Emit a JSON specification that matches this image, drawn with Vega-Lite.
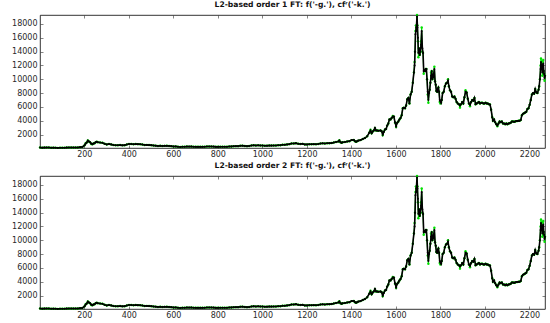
{
  "$schema": "https://vega.github.io/schema/vega-lite/v6.json",
  "padding": {"left": 11, "top": 1, "right": 6, "bottom": 1},
  "background": "white",
  "bounds": "flush",
  "spacing": 28,
  "config": {
    "view": {"stroke": "#000", "strokeWidth": 0.8},
    "axis": {
      "domain": false,
      "grid": false,
      "tickSize": -3,
      "tickColor": "#333",
      "tickWidth": 0.6,
      "labelFont": "DejaVu Sans",
      "labelFontSize": 8,
      "labelColor": "#2a2a2a",
      "format": "d",
      "title": null
    },
    "title": {"font": "DejaVu Sans", "fontSize": 7.6, "fontWeight": "bold", "color": "#111", "offset": 0}
  },
  "datasets": {"d": [
    {"x":1,"c":135,"f":135},{"x":11,"c":112,"f":112},{"x":21,"c":120,"f":120},{"x":31,"c":125,"f":125},{"x":41,"c":122,"f":122},{"x":51,"c":100,"f":100},{"x":61,"c":108,"f":108},{"x":71,"c":90,"f":90},{"x":81,"c":77,"f":77},{"x":91,"c":88,"f":88},
    {"x":101,"c":95,"f":95},{"x":111,"c":105,"f":105},{"x":121,"c":120,"f":120},{"x":131,"c":122,"f":122},{"x":141,"c":128,"f":128},{"x":151,"c":130,"f":130},{"x":161,"c":125,"f":125},{"x":171,"c":140,"f":140},{"x":181,"c":185,"f":185},{"x":191,"c":210,"f":210},
    {"x":201,"c":440,"f":440},{"x":206,"c":700,"f":740},{"x":211,"c":850,"f":850},{"x":216,"c":1130,"f":1150},{"x":221,"c":1000,"f":1000},{"x":226,"c":900,"f":900},{"x":231,"c":700,"f":650},{"x":236,"c":600,"f":600},{"x":241,"c":700,"f":700},{"x":246,"c":750,"f":750},
    {"x":251,"c":900,"f":900},{"x":256,"c":950,"f":950},{"x":261,"c":900,"f":900},{"x":271,"c":850,"f":850},{"x":281,"c":820,"f":820},{"x":291,"c":680,"f":680},{"x":301,"c":580,"f":580},{"x":311,"c":640,"f":640},{"x":321,"c":580,"f":580},{"x":331,"c":500,"f":500},
    {"x":341,"c":450,"f":450},{"x":351,"c":450,"f":450},{"x":361,"c":480,"f":480},{"x":371,"c":440,"f":440},{"x":381,"c":470,"f":470},{"x":391,"c":580,"f":580},{"x":401,"c":640,"f":640},{"x":411,"c":640,"f":640},{"x":421,"c":600,"f":600},{"x":431,"c":630,"f":630},
    {"x":441,"c":620,"f":620},{"x":451,"c":600,"f":600},{"x":461,"c":560,"f":560},{"x":471,"c":500,"f":500},{"x":481,"c":510,"f":510},{"x":491,"c":480,"f":480},{"x":501,"c":470,"f":470},{"x":511,"c":420,"f":420},{"x":521,"c":400,"f":400},{"x":531,"c":360,"f":360},
    {"x":541,"c":380,"f":380},{"x":551,"c":350,"f":350},{"x":561,"c":370,"f":370},{"x":571,"c":380,"f":380},{"x":581,"c":360,"f":360},{"x":591,"c":330,"f":330},{"x":601,"c":280,"f":280},{"x":611,"c":290,"f":290},{"x":621,"c":240,"f":240},{"x":631,"c":210,"f":210},
    {"x":641,"c":230,"f":230},{"x":651,"c":250,"f":250},{"x":661,"c":270,"f":270},{"x":671,"c":260,"f":260},{"x":681,"c":280,"f":280},{"x":691,"c":240,"f":240},{"x":701,"c":230,"f":230},{"x":711,"c":230,"f":230},{"x":721,"c":240,"f":240},{"x":731,"c":230,"f":230},
    {"x":741,"c":250,"f":250},{"x":751,"c":270,"f":270},{"x":761,"c":285,"f":285},{"x":771,"c":280,"f":280},{"x":781,"c":260,"f":260},{"x":791,"c":230,"f":230},{"x":801,"c":230,"f":230},{"x":811,"c":235,"f":235},{"x":821,"c":240,"f":240},{"x":831,"c":250,"f":250},
    {"x":841,"c":245,"f":245},{"x":851,"c":270,"f":270},{"x":861,"c":290,"f":290},{"x":871,"c":310,"f":310},{"x":881,"c":330,"f":330},{"x":891,"c":330,"f":330},{"x":901,"c":380,"f":380},{"x":911,"c":400,"f":400},{"x":921,"c":360,"f":360},{"x":931,"c":330,"f":330},
    {"x":941,"c":360,"f":360},{"x":951,"c":430,"f":430},{"x":961,"c":450,"f":450},{"x":971,"c":430,"f":430},{"x":981,"c":440,"f":440},{"x":991,"c":430,"f":430},{"x":1001,"c":420,"f":420},{"x":1011,"c":380,"f":380},{"x":1021,"c":400,"f":400},{"x":1031,"c":420,"f":420},
    {"x":1041,"c":410,"f":410},{"x":1051,"c":430,"f":430},{"x":1061,"c":420,"f":420},{"x":1071,"c":450,"f":450},{"x":1081,"c":460,"f":460},{"x":1091,"c":530,"f":530},{"x":1101,"c":530,"f":530},{"x":1111,"c":580,"f":580},{"x":1121,"c":620,"f":620},{"x":1131,"c":700,"f":700},
    {"x":1141,"c":720,"f":720},{"x":1151,"c":760,"f":760},{"x":1161,"c":680,"f":680},{"x":1171,"c":650,"f":650},{"x":1181,"c":660,"f":660},{"x":1191,"c":580,"f":580},{"x":1201,"c":580,"f":580},{"x":1211,"c":600,"f":600},{"x":1221,"c":610,"f":610},{"x":1231,"c":620,"f":620},
    {"x":1241,"c":610,"f":610},{"x":1251,"c":640,"f":640},{"x":1261,"c":700,"f":700},{"x":1271,"c":730,"f":730},{"x":1281,"c":720,"f":720},{"x":1291,"c":740,"f":740},{"x":1301,"c":760,"f":760},{"x":1311,"c":770,"f":770},{"x":1321,"c":860,"f":860},{"x":1331,"c":920,"f":920},
    {"x":1341,"c":1000,"f":1000},{"x":1346,"c":1150,"f":1200},{"x":1351,"c":900,"f":900},{"x":1356,"c":820,"f":820},{"x":1361,"c":900,"f":900},{"x":1371,"c":920,"f":920},{"x":1381,"c":1000,"f":1000},{"x":1391,"c":1050,"f":1050},{"x":1401,"c":1200,"f":1200},{"x":1411,"c":1230,"f":1230},
    {"x":1416,"c":1050,"f":1050},{"x":1421,"c":960,"f":960},{"x":1426,"c":1050,"f":1050},{"x":1431,"c":1130,"f":1130},{"x":1441,"c":1200,"f":1200},{"x":1451,"c":1350,"f":1350},{"x":1461,"c":1500,"f":1500},{"x":1471,"c":1750,"f":1750},{"x":1481,"c":2300,"f":2300},{"x":1486,"c":2600,"f":2700},
    {"x":1491,"c":2200,"f":2200},{"x":1496,"c":2450,"f":2450},{"x":1501,"c":2600,"f":2600},{"x":1506,"c":2950,"f":2950},{"x":1511,"c":2600,"f":2600},{"x":1516,"c":2600,"f":2600},{"x":1521,"c":2550,"f":2550},{"x":1531,"c":2600,"f":2600},{"x":1536,"c":2500,"f":2500},{"x":1541,"c":2000,"f":1900},
    {"x":1546,"c":2400,"f":2400},{"x":1551,"c":2750,"f":2750},{"x":1556,"c":2800,"f":2800},{"x":1561,"c":3300,"f":3300},{"x":1566,"c":3600,"f":3600},{"x":1571,"c":4200,"f":4200},{"x":1576,"c":4200,"f":4200},{"x":1581,"c":4400,"f":4400},{"x":1586,"c":4600,"f":4700},{"x":1591,"c":4600,"f":4600},
    {"x":1596,"c":3800,"f":3700},{"x":1601,"c":3200,"f":3100},{"x":1606,"c":3700,"f":3700},{"x":1611,"c":3900,"f":3900},{"x":1616,"c":4200,"f":4200},{"x":1621,"c":4400,"f":4400},{"x":1626,"c":4800,"f":4800},{"x":1631,"c":5800,"f":5800},{"x":1636,"c":5900,"f":5900},{"x":1641,"c":5800,"f":5800},
    {"x":1646,"c":6200,"f":6200},{"x":1651,"c":7100,"f":7100},{"x":1656,"c":7300,"f":7300},{"x":1661,"c":6500,"f":6500},{"x":1666,"c":7800,"f":7800},{"x":1671,"c":8200,"f":8200},{"x":1676,"c":9500,"f":9500},{"x":1681,"c":11000,"f":11000},{"x":1684,"c":12000,"f":12500},{"x":1686,"c":14000,"f":14000},
    {"x":1688,"c":16500,"f":17000},{"x":1690,"c":17000,"f":17800},{"x":1692,"c":17500,"f":17000},{"x":1695,"c":19100,"f":19300},{"x":1697,"c":17500,"f":17800},{"x":1699,"c":16000,"f":15500},{"x":1701,"c":13800,"f":13200},{"x":1704,"c":14500,"f":14500},{"x":1707,"c":13500,"f":13500},{"x":1710,"c":14000,"f":14000},
    {"x":1713,"c":15000,"f":15500},{"x":1716,"c":17000,"f":17500},{"x":1719,"c":14500,"f":14000},{"x":1722,"c":13800,"f":13800},{"x":1725,"c":11200,"f":10800},{"x":1728,"c":11300,"f":11300},{"x":1731,"c":11200,"f":11200},{"x":1734,"c":11500,"f":11500},{"x":1737,"c":11500,"f":11500},{"x":1740,"c":10000,"f":10000},
    {"x":1743,"c":8200,"f":7800},{"x":1746,"c":7000,"f":6600},{"x":1749,"c":8000,"f":8000},{"x":1752,"c":8500,"f":8500},{"x":1755,"c":9500,"f":9500},{"x":1758,"c":10500,"f":11000},{"x":1761,"c":11200,"f":11200},{"x":1764,"c":10000,"f":10000},{"x":1767,"c":10300,"f":10300},{"x":1770,"c":10800,"f":10800},
    {"x":1773,"c":11500,"f":11800},{"x":1776,"c":9700,"f":9700},{"x":1779,"c":9200,"f":9200},{"x":1782,"c":8300,"f":8300},{"x":1785,"c":8200,"f":8200},{"x":1788,"c":8600,"f":8600},{"x":1791,"c":8800,"f":8800},{"x":1794,"c":8200,"f":8200},{"x":1797,"c":7000,"f":6700},{"x":1800,"c":6800,"f":6500},
    {"x":1803,"c":6600,"f":6600},{"x":1806,"c":7000,"f":7000},{"x":1810,"c":8000,"f":8000},{"x":1815,"c":8200,"f":8200},{"x":1820,"c":9000,"f":9000},{"x":1825,"c":9400,"f":9400},{"x":1830,"c":9500,"f":9500},{"x":1834,"c":9800,"f":10000},{"x":1838,"c":9000,"f":9000},{"x":1843,"c":8400,"f":8400},
    {"x":1848,"c":8200,"f":8200},{"x":1853,"c":7500,"f":7500},{"x":1858,"c":7400,"f":7400},{"x":1863,"c":7500,"f":7500},{"x":1868,"c":7200,"f":7200},{"x":1873,"c":6700,"f":6700},{"x":1878,"c":6500,"f":6500},{"x":1883,"c":6400,"f":6400},{"x":1888,"c":6200,"f":5900},{"x":1893,"c":6400,"f":6400},
    {"x":1898,"c":6700,"f":6700},{"x":1903,"c":6500,"f":6500},{"x":1908,"c":7400,"f":7400},{"x":1913,"c":8200,"f":8400},{"x":1918,"c":8100,"f":8100},{"x":1923,"c":7200,"f":7200},{"x":1928,"c":6500,"f":6500},{"x":1933,"c":6300,"f":6100},{"x":1938,"c":6700,"f":6700},{"x":1943,"c":7000,"f":7000},
    {"x":1948,"c":6900,"f":6900},{"x":1953,"c":7300,"f":7300},{"x":1958,"c":6400,"f":6400},{"x":1963,"c":6500,"f":6500},{"x":1968,"c":6600,"f":6600},{"x":1973,"c":6700,"f":6700},{"x":1978,"c":6500,"f":6500},{"x":1983,"c":6600,"f":6600},{"x":1988,"c":6600,"f":6600},{"x":1993,"c":6500,"f":6500},
    {"x":1998,"c":6500,"f":6500},{"x":2003,"c":6600,"f":6600},{"x":2008,"c":6500,"f":6500},{"x":2013,"c":6500,"f":6500},{"x":2018,"c":6400,"f":6400},{"x":2023,"c":6350,"f":6350},{"x":2028,"c":5600,"f":5600},{"x":2033,"c":4500,"f":4500},{"x":2036,"c":4000,"f":4000},{"x":2041,"c":4200,"f":4200},
    {"x":2046,"c":3800,"f":3800},{"x":2051,"c":3500,"f":3500},{"x":2056,"c":3300,"f":3200},{"x":2061,"c":3600,"f":3600},{"x":2066,"c":3900,"f":3900},{"x":2071,"c":3800,"f":3800},{"x":2076,"c":3900,"f":3900},{"x":2081,"c":3600,"f":3600},{"x":2086,"c":3600,"f":3600},{"x":2091,"c":3500,"f":3500},
    {"x":2096,"c":3600,"f":3600},{"x":2101,"c":3500,"f":3500},{"x":2106,"c":3600,"f":3600},{"x":2111,"c":3650,"f":3650},{"x":2116,"c":3700,"f":3700},{"x":2121,"c":3900,"f":3900},{"x":2126,"c":3900,"f":3900},{"x":2131,"c":3850,"f":3850},{"x":2136,"c":3900,"f":3900},{"x":2141,"c":3950,"f":3950},
    {"x":2146,"c":3950,"f":3950},{"x":2151,"c":4000,"f":4000},{"x":2156,"c":4000,"f":4000},{"x":2161,"c":4100,"f":4100},{"x":2166,"c":4800,"f":4800},{"x":2171,"c":5000,"f":5000},{"x":2176,"c":5100,"f":5100},{"x":2181,"c":5200,"f":5200},{"x":2186,"c":5300,"f":5300},{"x":2191,"c":5700,"f":5700},
    {"x":2196,"c":5800,"f":5800},{"x":2201,"c":6300,"f":6300},{"x":2206,"c":7000,"f":7000},{"x":2211,"c":7800,"f":7800},{"x":2216,"c":8000,"f":8000},{"x":2221,"c":7900,"f":7900},{"x":2226,"c":8600,"f":8600},{"x":2231,"c":8100,"f":8100},{"x":2236,"c":8000,"f":8000},{"x":2241,"c":8500,"f":8500},
    {"x":2244,"c":9000,"f":9000},{"x":2247,"c":10000,"f":10000},{"x":2250,"c":11500,"f":12000},{"x":2252,"c":12500,"f":13000},{"x":2254,"c":11500,"f":11500},{"x":2256,"c":12100,"f":12600},{"x":2258,"c":11000,"f":10500},{"x":2260,"c":11400,"f":11400},{"x":2262,"c":12300,"f":12800},{"x":2264,"c":11200,"f":11200},
    {"x":2266,"c":10800,"f":10800},{"x":2268,"c":10200,"f":9800},{"x":2270,"c":10500,"f":10500}
  ]},
  "vconcat": [
    {
      "width": 505,
      "height": 133,
      "data": {"name": "d"},
      "title": {"text": "L2-based order 1 FT: f('-g.'), cfʳ('-k.')"},
      "layer": [
        {"mark": {"type": "line", "color": "#00e000", "strokeWidth": 1},
         "encoding": {
           "x": {"field": "x", "type": "quantitative", "scale": {"domain": [1, 2270], "nice": false, "zero": false},
                 "axis": {"orient": "bottom", "values": [200,400,600,800,1000,1200,1400,1600,1800,2000,2200], "labelPadding": 5}},
           "y": {"field": "f", "type": "quantitative", "scale": {"domain": [60, 19300], "nice": false, "zero": false},
                 "axis": {"orient": "left", "values": [2000,4000,6000,8000,10000,12000,14000,16000,18000], "labelPadding": 6}}}},
        {"mark": {"type": "point", "filled": true, "color": "#00e000", "size": 6, "opacity": 1},
         "encoding": {"x": {"field": "x", "type": "quantitative", "axis": null}, "y": {"field": "f", "type": "quantitative", "axis": null}}},
        {"mark": {"type": "line", "color": "#000", "strokeWidth": 1.6},
         "encoding": {"x": {"field": "x", "type": "quantitative", "axis": null}, "y": {"field": "c", "type": "quantitative", "axis": null}}},
        {"mark": {"type": "point", "filled": true, "color": "#000", "size": 4, "opacity": 1},
         "encoding": {"x": {"field": "x", "type": "quantitative", "axis": null}, "y": {"field": "c", "type": "quantitative", "axis": null}}},
        {"mark": {"type": "point", "opacity": 0},
         "encoding": {
           "x": {"field": "x", "type": "quantitative", "axis": {"orient": "top", "labels": false, "values": [200,400,600,800,1000,1200,1400,1600,1800,2000,2200]}},
           "y": {"field": "c", "type": "quantitative", "axis": {"orient": "right", "labels": false, "values": [2000,4000,6000,8000,10000,12000,14000,16000,18000]}}}}
      ],
      "resolve": {"axis": {"x": "independent", "y": "independent"}}
    },
    {
      "width": 505,
      "height": 133,
      "data": {"name": "d"},
      "title": {"text": "L2-based order 2 FT: f('-g.'), cfʳ('-k.')"},
      "layer": [
        {"mark": {"type": "line", "color": "#00e000", "strokeWidth": 1},
         "encoding": {
           "x": {"field": "x", "type": "quantitative", "scale": {"domain": [1, 2270], "nice": false, "zero": false},
                 "axis": {"orient": "bottom", "values": [200,400,600,800,1000,1200,1400,1600,1800,2000,2200], "labelPadding": 5}},
           "y": {"field": "f", "type": "quantitative", "scale": {"domain": [60, 19300], "nice": false, "zero": false},
                 "axis": {"orient": "left", "values": [2000,4000,6000,8000,10000,12000,14000,16000,18000], "labelPadding": 6}}}},
        {"mark": {"type": "point", "filled": true, "color": "#00e000", "size": 6, "opacity": 1},
         "encoding": {"x": {"field": "x", "type": "quantitative", "axis": null}, "y": {"field": "f", "type": "quantitative", "axis": null}}},
        {"mark": {"type": "line", "color": "#000", "strokeWidth": 1.6},
         "encoding": {"x": {"field": "x", "type": "quantitative", "axis": null}, "y": {"field": "c", "type": "quantitative", "axis": null}}},
        {"mark": {"type": "point", "filled": true, "color": "#000", "size": 4, "opacity": 1},
         "encoding": {"x": {"field": "x", "type": "quantitative", "axis": null}, "y": {"field": "c", "type": "quantitative", "axis": null}}},
        {"mark": {"type": "point", "opacity": 0},
         "encoding": {
           "x": {"field": "x", "type": "quantitative", "axis": {"orient": "top", "labels": false, "values": [200,400,600,800,1000,1200,1400,1600,1800,2000,2200]}},
           "y": {"field": "c", "type": "quantitative", "axis": {"orient": "right", "labels": false, "values": [2000,4000,6000,8000,10000,12000,14000,16000,18000]}}}}
      ],
      "resolve": {"axis": {"x": "independent", "y": "independent"}}
    }
  ]
}
